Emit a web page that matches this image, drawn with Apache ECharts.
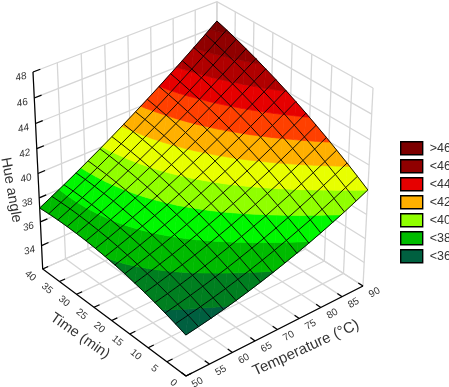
<!DOCTYPE html>
<html><head><meta charset="utf-8">
<style>html,body{margin:0;padding:0;background:#fff}#c{width:449px;height:387px}</style>
<script src="https://cdn.jsdelivr.net/npm/echarts@6/dist/echarts.min.js"></script>
</head><body><div id="c"></div>
<script>
var temperatures=[50,52.67,55.33,58,60.67,63.33,66,68.67,71.33,74,76.67,79.33,82,84.67,87.33,90];
var times=[0,2.67,5.33,8,10.67,13.33,16,18.67,21.33,24,26.67,29.33,32,34.67,37.33,40];
// hue angle: one row per time, one column per temperature
var hue=[
[35.35,35.52,35.70,35.91,36.14,36.39,36.66,36.95,37.26,37.59,37.94,38.31,38.70,39.11,39.55,40.00],
[35.65,35.84,36.04,36.27,36.52,36.79,37.08,37.39,37.72,38.07,38.44,38.82,39.23,39.66,40.11,40.58],
[35.92,36.13,36.36,36.61,36.88,37.17,37.48,37.81,38.15,38.52,38.91,39.32,39.74,40.19,40.65,41.14],
[36.17,36.40,36.65,36.92,37.21,37.52,37.85,38.20,38.57,38.95,39.36,39.78,40.23,40.69,41.17,41.67],
[36.39,36.64,36.92,37.21,37.52,37.85,38.20,38.57,38.96,39.36,39.79,40.23,40.69,41.17,41.67,42.19],
[36.58,36.86,37.16,37.47,37.81,38.16,38.53,38.92,39.32,39.75,40.19,40.65,41.13,41.63,42.15,42.68],
[36.76,37.06,37.38,37.71,38.07,38.44,38.83,39.24,39.67,40.11,40.57,41.05,41.55,42.07,42.60,43.16],
[36.90,37.23,37.57,37.93,38.31,38.70,39.11,39.54,39.99,40.45,40.94,41.44,41.95,42.49,43.04,43.61],
[37.02,37.37,37.74,38.12,38.52,38.93,39.37,39.82,40.28,40.77,41.27,41.79,42.33,42.88,43.45,44.04],
[37.12,37.49,37.88,38.28,38.70,39.14,39.60,40.07,40.56,41.06,41.59,42.12,42.68,43.25,43.84,44.45],
[37.19,37.58,38.00,38.42,38.87,39.33,39.81,40.30,40.81,41.34,41.88,42.44,43.01,43.60,44.21,44.83],
[37.23,37.65,38.09,38.54,39.01,39.49,39.99,40.51,41.04,41.58,42.15,42.73,43.32,43.93,44.56,45.20],
[37.25,37.70,38.16,38.63,39.12,39.63,40.15,40.69,41.24,41.81,42.39,42.99,43.61,44.24,44.88,45.54],
[37.25,37.72,38.20,38.70,39.22,39.74,40.29,40.85,41.42,42.01,42.62,43.24,43.87,44.52,45.19,45.87],
[37.22,37.71,38.22,38.74,39.28,39.84,40.40,40.98,41.58,42.19,42.82,43.46,44.12,44.79,45.47,46.17],
[37.16,37.68,38.21,38.76,39.33,39.90,40.49,41.10,41.72,42.35,43.00,43.66,44.34,45.03,45.73,46.45]
];
var bandNames=['<36','<37','<38','<39','<40','<41','<42','<43','<44','<45','<46','>46'];
var bandLower=[0,36,37,38,39,40,41,42,43,44,45,46];
var bandUpper=[36,37,38,39,40,41,42,43,44,45,46,99];
var bandColors=['#006040','#007f20','#00bb00','#00f800','#90ff00','#e8ff00','#ffb000','#ff4000','#e60000','#b00000','#900000','#7c0000'];
var legendNames=['>46','<46','<44','<42','<40','<38','<36'];
var tempTicks=[50,55,60,65,70,75,80,85,90];
var timeTicks=[0,5,10,15,20,25,30,35,40];
var hueTicks=[34,36,38,40,42,44,46,48];
var hueRange=[32,48];

// perspective view of the unit box
var view={x0:186,xu:200.85,xv:-140.05,xw:-12.49,y0:376,yu:-71.21,yv:-86.5,yw:-216.47,gu:.0657,gv:.0762,gw:-.0621};
function project(T,t,Z){
  var u=(T-50)/40,v=t/40,w=(Z-hueRange[0])/(hueRange[1]-hueRange[0]);
  var d=1+view.gu*u+view.gv*v+view.gw*w;
  return [(view.x0+view.xu*u+view.xv*v+view.xw*w)/d,(view.y0+view.yu*u+view.yv*v+view.yw*w)/d];
}
function clip(poly,level,keepAbove){
  var out=[];
  for(var i=0;i<poly.length;i++){
    var p=poly[i],q=poly[(i+1)%poly.length];
    var pi=keepAbove?p[2]>=level:p[2]<=level, qi=keepAbove?q[2]>=level:q[2]<=level;
    if(pi)out.push(p);
    if(pi!==qi){var s=(level-p[2])/(q[2]-p[2]);out.push([p[0]+s*(q[0]-p[0]),p[1]+s*(q[1]-p[1]),level]);}
  }
  return out;
}
var cells=[];
for(var k=times.length-2;k>=0;k--)for(var j=temperatures.length-2;j>=0;j--)cells.push([j,k]);

function bandSeries(b){
  return {type:'custom',name:bandNames[b],coordinateSystem:'cartesian2d',clip:false,silent:true,
    itemStyle:{color:bandColors[b]},data:cells,encode:{x:0,y:1},z:2,
    renderItem:function(params,api){
      var j=api.value(0),k=api.value(1);
      var c=function(a,e){return [temperatures[a],times[e],hue[e][a]];};
      var tris=[[c(j,k),c(j+1,k),c(j+1,k+1)],[c(j,k),c(j+1,k+1),c(j,k+1)]];
      var kids=[];
      tris.forEach(function(t){
        var p=clip(clip(t,bandLower[b],true),bandUpper[b],false);
        if(p.length<3)return;
        kids.push({type:'polygon',shape:{points:p.map(function(q){return api.coord(project(q[0],q[1],q[2]));})},
          style:{fill:bandColors[b],stroke:bandColors[b],lineWidth:.7}});
      });
      return {type:'group',children:kids};
    }};
}
function line(api,pts,color,w){
  return {type:'polyline',shape:{points:pts.map(function(p){return api.coord(p);})},style:{fill:null,stroke:color,lineWidth:w}};
}
function label(api,txt,p,dx,dy,rot,size,style){
  var c=api.coord(p);
  return {type:'text',x:c[0]+dx,y:c[1]+dy,rotation:rot*Math.PI/180,
    style:{text:txt,fill:'#333',font:(style||'normal')+' '+size+'px "Liberation Sans",Arial,sans-serif',align:'center',verticalAlign:'middle'}};
}
var gridCol='#d6d6d6',zB=hueRange[0],zT=hueRange[1];
function wallsItem(params,api){
  var kids=[];
  tempTicks.forEach(function(T){
    kids.push(line(api,[project(T,40,zB),project(T,40,zT)],gridCol,1.3));
    kids.push(line(api,[project(T,0,zB),project(T,40,zB)],gridCol,1.3));
  });
  timeTicks.forEach(function(t){
    kids.push(line(api,[project(90,t,zB),project(90,t,zT)],gridCol,1.3));
    kids.push(line(api,[project(50,t,zB),project(90,t,zB)],gridCol,1.3));
  });
  [zB].concat(hueTicks).forEach(function(Z){
    kids.push(line(api,[project(50,40,Z),project(90,40,Z),project(90,0,Z)],gridCol,1.3));
  });
  return {type:'group',children:kids};
}
function axesItem(params,api){
  var kids=[];
  kids.push(line(api,[project(50,40,zT),project(50,40,zB),project(50,0,zB),project(90,0,zB)],'#000',1.2));
  hueTicks.forEach(function(Z){
    kids.push(line(api,[project(50,40,Z),project(51.5,40,Z)],'#000',1.2));
    kids.push(label(api,String(Z),project(50,40,Z),-12,5,14,10,'italic'));
  });
  timeTicks.forEach(function(t){
    kids.push(line(api,[project(50,t,zB),project(51.2,t,zB)],'#000',1.2));
    kids.push(label(api,String(t),project(50,t,zB),-12.5,7,-40,10));
  });
  tempTicks.forEach(function(T){
    kids.push(line(api,[project(T,0,zB),project(T,1.2,zB)],'#000',1.2));
    kids.push(label(api,String(T),project(T,0,zB),11.5,6.5,30,10));
  });
  kids.push(label(api,'Hue angle',[11,190],0,0,-80,14.5));
  kids.push(label(api,'Time (min)',[80,336],0,0,-35,14.5));
  kids.push(label(api,'Temperature (°C)',[306,348],0,0,24.6,15));
  return {type:'group',children:kids};
}
function wireItem(params,api){
  var kids=[];
  temperatures.forEach(function(T,j){
    kids.push(line(api,times.map(function(t,k){return project(T,t,hue[k][j]);}),'#000',.9));
  });
  times.forEach(function(t,k){
    kids.push(line(api,temperatures.map(function(T,j){return project(T,t,hue[k][j]);}),'#000',.9));
  });
  return {type:'group',children:kids};
}
function furniture(fn,z){
  return {type:'custom',coordinateSystem:'cartesian2d',clip:false,silent:true,data:[[0,0]],encode:{x:0,y:1},z:z,renderItem:fn};
}
var series=[furniture(wallsItem,1),furniture(axesItem,1)];
bandNames.forEach(function(n,b){series.push(bandSeries(b));});
series.push(furniture(wireItem,3));

var chart=echarts.init(document.getElementById('c'),null,{renderer:'canvas'});
chart.setOption({
  animation:false,backgroundColor:'#fff',
  grid:{left:0,right:0,top:0,bottom:0,containLabel:false},
  xAxis:{type:'value',min:0,max:449,show:false},
  yAxis:{type:'value',min:0,max:387,inverse:true,show:false},
  legend:{data:legendNames,orient:'vertical',left:400,top:141,padding:0,itemWidth:22,itemHeight:13,itemGap:3.6,icon:'rect',selectedMode:false,
    itemStyle:{borderColor:'#000',borderWidth:1.4},
    textStyle:{color:'#333',fontSize:12.5,fontFamily:'"Liberation Sans",Arial,sans-serif',padding:[0,0,0,2],width:24,overflow:'none'}},
  tooltip:{show:false},
  series:series
});
</script></body></html>
